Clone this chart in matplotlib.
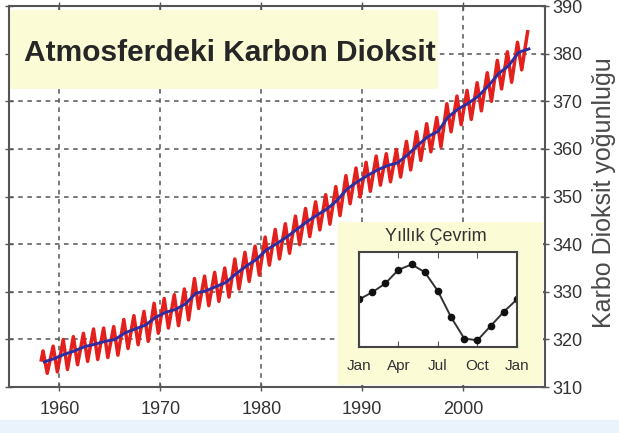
import matplotlib
matplotlib.use('Agg')
import matplotlib.pyplot as plt
from matplotlib.patches import Rectangle
import numpy as np

plt.rcParams['font.family'] = ['Liberation Sans', 'DejaVu Sans']

# Yearly values (ppm)
years = np.arange(1958, 2007)
yearly_mean = [315.3, 316.0, 316.9, 317.6, 318.5, 319.0, 319.6, 320.0, 321.4, 322.2,
               323.0, 324.6, 325.7, 326.3, 327.5, 329.7, 330.2, 331.1, 332.0, 333.8,
               335.4, 336.8, 338.8, 340.1, 341.5, 343.1, 344.7, 346.1, 347.4, 349.2,
               351.6, 353.1, 354.4, 355.6, 356.5, 357.1, 358.8, 360.8, 362.6, 363.7,
               366.7, 368.4, 369.6, 371.1, 373.3, 375.8, 377.5, 380.3, 381.0]
# seasonal maxima (May) and minima (Oct) of the red curve
may_peak = [317.6, 318.6, 320.0, 320.6, 321.3, 322.2, 322.4, 322.7, 324.2, 325.0,
            325.9, 327.6, 328.6, 329.4, 330.6, 332.8, 333.3, 334.1, 335.0, 336.9,
            338.3, 339.6, 341.5, 343.1, 344.3, 345.9, 347.5, 348.9, 350.4, 352.1,
            354.4, 356.0, 357.2, 358.5, 359.0, 359.9, 361.6, 363.6, 365.3, 366.6,
            369.5, 371.1, 372.3, 373.9, 376.0, 378.6, 380.4, 382.4, 384.6]
oct_low = [312.9, 313.2, 313.7, 314.7, 315.4, 315.8, 316.2, 316.7, 318.1, 318.9,
           319.6, 321.3, 322.4, 322.9, 324.1, 326.5, 327.1, 328.0, 328.9, 330.6,
           332.2, 333.5, 335.6, 336.9, 338.1, 339.9, 341.6, 343.0, 344.2, 346.0,
           348.5, 349.9, 351.1, 352.4, 353.1, 354.1, 355.6, 357.6, 359.4, 360.4,
           363.6, 365.1, 366.2, 368.0, 370.0, 372.6, 374.0, 376.6]
first_month = (1958.2, 315.7)

# inset: mean annual cycle
months = ['Jan', 'Feb', 'Mar', 'Apr', 'May', 'Jun', 'Jul', 'Aug', 'Sep', 'Oct', 'Nov', 'Dec', 'Jan']
cycle = [0.0, 0.6, 1.35, 2.5, 2.95, 2.3, 0.7, -1.5, -3.3, -3.45, -2.25, -1.05, 0.0]
cycle_ticks = ['Jan', 'Apr', 'Jul', 'Oct', 'Jan']

# build red zigzag: start, then May peak / Oct low for every year
red_t = [first_month[0]]
red_v = [first_month[1]]
for i, yr in enumerate(years):
    red_t.append(yr + 4.5 / 12)
    red_v.append(may_peak[i])
    if i < len(oct_low):
        red_t.append(yr + 9.5 / 12)
        red_v.append(oct_low[i])

fig = plt.figure(figsize=(6.19, 4.33), dpi=100)
fig.patches.append(Rectangle((0, 0), 1, 0.03, transform=fig.transFigure,
                             color='#eaf3fb', zorder=0))

ax = fig.add_axes([0.0145, 0.106, 0.866, 0.880])
ax.set_axisbelow(True)
ax.plot(red_t, red_v, color='#e3201b', lw=2.5, zorder=3)
ax.plot(years + 0.5, yearly_mean, color='#2e2ea0', lw=2.1, zorder=4)

ax.set_xlim(1955, 2008.1)
ax.set_ylim(310, 390)
ax.set_xticks([1960, 1970, 1980, 1990, 2000])
ax.set_yticks(np.arange(310, 391, 10))
ax.grid(True, color='#555555', lw=1.1, linestyle=(0, (3, 3)))
ax.tick_params(axis='both', direction='inout', length=6, width=1, color='#555555',
               labelsize=13, labelcolor='#333333')
ax.tick_params(axis='y', left=True, right=True, labelleft=False, labelright=True, pad=2)
ax.tick_params(axis='x', top=True, pad=7)
for s in ax.spines.values():
    s.set_color('#555555')
    s.set_linewidth(1.5)

ax.yaxis.set_label_position('right')
ax.set_ylabel('Karbo Dioksit yoğunluğu', fontsize=18, color='#4a4a4a')
ax.yaxis.set_label_coords(1.088, 0.51)

# title box
ax.add_patch(Rectangle((0.016, 0.795), 0.691, 0.181, transform=fig.transFigure,
                       facecolor='#fbfbd6', edgecolor='none', zorder=1))
fig.text(0.039, 0.877, 'Atmosferdeki Karbon Dioksit', fontsize=21.5, fontweight='bold',
         color='#262626', va='center', ha='left')

# inset box
ax.add_patch(Rectangle((0.546, 0.111), 0.331, 0.376, transform=fig.transFigure,
                       facecolor='#fbfbd6', edgecolor='none', zorder=1))
fig.text(0.704, 0.453, 'Yıllık Çevrim', fontsize=13, color='#333333', ha='center', va='center')

ins = fig.add_axes([0.580, 0.199, 0.255, 0.219])
ins.plot(np.arange(len(months)), cycle, color='#333333', lw=1.4,
         marker='o', markersize=4.5, markerfacecolor='#111111', markeredgecolor='#111111')
ins.set_xlim(0, 12)
ins.set_ylim(-4, 4)
ins.set_xticks([0, 3, 6, 9, 12])
ins.set_xticklabels(cycle_ticks)
ins.set_yticks([])
ins.tick_params(axis='x', direction='in', top=True, length=4, color='#555555',
                labelsize=11, labelcolor='#333333', pad=9)
for s in ins.spines.values():
    s.set_color('#444444')
    s.set_linewidth(1.5)

fig.savefig('out.png', dpi=100)
